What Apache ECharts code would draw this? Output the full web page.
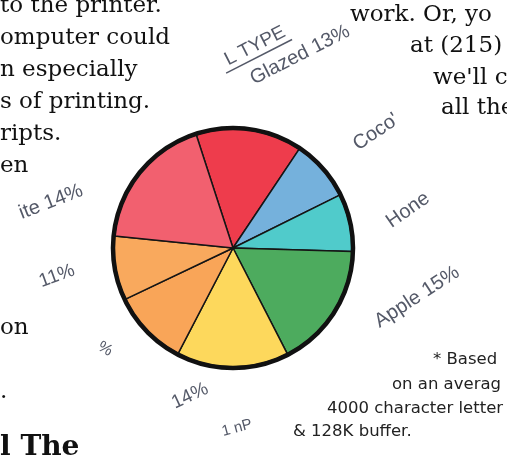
<!DOCTYPE html>
<html>
<head>
<meta charset="utf-8">
<script src="https://cdn.jsdelivr.net/npm/echarts@6/dist/echarts.min.js"></script>
<style>
  html, body { margin: 0; padding: 0; background: #fff; }
  #main { width: 507px; height: 458px; }
</style>
</head>
<body>
<div id="main"></div>
<script>
// slices clockwise from the top-left edge of the red wedge
var donutNames = ['Glazed', 'Coconut', 'Honey', 'Apple', 'Jelly', 'Cream', 'Plain', 'Chocolate'];
var donutShares = [14.4, 8.3, 7.8, 17.0, 15.2, 10.3, 8.7, 18.4];
var donutColors = ['#ee3c4c', '#75b1dc', '#50cbcb', '#4dab5e', '#fdd85c', '#f9a558', '#f9a95d', '#f2606f'];

// printed labels as they survive on the scan
var labelTexts = ['Glazed 13%', "Coco'", 'Hone', 'Apple 15%', '14%', '%', '11%', 'ite 14%', '1 nP'];
var labelSpots = [[300, 55, 27], [376, 132, 34], [408, 210, 35], [417, 297, 33], [190, 396, 25], [105, 349, -30], [57, 276, 20], [51, 202, 21], [237, 428, 15]];
var labelSizes = [20, 20, 20, 20, 19, 16, 19, 20, 15];

// magazine copy around the chart
var copyLeft = ['to the printer.', 'omputer could', 'n especially', 's of printing.', 'ripts.', 'en', 'on', '.'];
var copyLeftBase = [18, 50, 82, 114, 146, 178, 340, 404];
var copyRight = ['work. Or, yo', 'at (215)', "we'll c", 'all the'];
var copyRightSpots = [[350, 27], [410, 58], [433, 90], [441, 120]];
var noteLines = ['* Based', 'on an averag', '4000 character letter', '& 128K buffer.'];
var noteSpots = [[433, 368], [392, 393], [327, 417], [293, 440]];

var myChart = echarts.init(document.getElementById('main'));

var pieData = [];
for (var i = 0; i < donutNames.length; i++) {
    pieData.push({ name: donutNames[i], value: donutShares[i], itemStyle: { color: donutColors[i] } });
}

var graphics = [];
var deg = Math.PI / 180;

for (var i = 0; i < labelTexts.length; i++) {
    graphics.push({
        type: 'text',
        x: labelSpots[i][0],
        y: labelSpots[i][1],
        rotation: labelSpots[i][2] * deg,
        silent: true,
        style: {
            text: labelTexts[i],
            font: labelSizes[i] + 'px "Liberation Sans", Arial, sans-serif',
            fill: '#545968',
            align: 'center',
            verticalAlign: 'middle'
        }
    });
}

// heading with its underline
graphics.push({
    type: 'group',
    x: 255,
    y: 46,
    rotation: 27 * deg,
    silent: true,
    children: [
        {
            type: 'text',
            style: {
                text: 'L TYPE',
                font: '19px "Liberation Sans", Arial, sans-serif',
                fill: '#545968',
                align: 'center',
                verticalAlign: 'middle'
            }
        },
        {
            type: 'line',
            shape: { x1: -38, y1: 11, x2: 36, y2: 11 },
            style: { stroke: '#545968', lineWidth: 1.5 }
        }
    ]
});

for (var i = 0; i < copyLeft.length; i++) {
    graphics.push({
        type: 'text', x: 0, y: copyLeftBase[i], silent: true,
        style: { text: copyLeft[i], font: '23px "DejaVu Serif", serif', fill: '#111', align: 'left', verticalAlign: 'bottom' }
    });
}
graphics.push({
    type: 'text', x: 0, y: 462, silent: true,
    style: { text: 'l The', font: 'bold 28px "DejaVu Serif", serif', fill: '#111', align: 'left', verticalAlign: 'bottom' }
});
for (var i = 0; i < copyRight.length; i++) {
    graphics.push({
        type: 'text', x: copyRightSpots[i][0], y: copyRightSpots[i][1], silent: true,
        style: { text: copyRight[i], font: '23px "DejaVu Serif", serif', fill: '#111', align: 'left', verticalAlign: 'bottom' }
    });
}
for (var i = 0; i < noteLines.length; i++) {
    graphics.push({
        type: 'text', x: noteSpots[i][0], y: noteSpots[i][1], silent: true,
        style: { text: noteLines[i], font: '16.5px "DejaVu Sans", sans-serif', fill: '#222', align: 'left', verticalAlign: 'bottom' }
    });
}

myChart.setOption({
    animation: false,
    backgroundColor: '#fff',
    graphic: graphics,
    series: [
        {
            type: 'pie',
            center: [233, 248],
            radius: 119,
            startAngle: 108,
            clockwise: true,
            silent: true,
            label: { show: false },
            labelLine: { show: false },
            itemStyle: { borderColor: '#151515', borderWidth: 1.5 },
            data: pieData
        },
        {
            // heavy rim round the pie
            type: 'pie',
            center: [233, 248],
            radius: 120,
            silent: true,
            label: { show: false },
            labelLine: { show: false },
            itemStyle: { color: 'rgba(0,0,0,0)', borderColor: '#111', borderWidth: 4.5 },
            data: [{ name: 'rim', value: 1 }]
        }
    ]
});
</script>
</body>
</html>
